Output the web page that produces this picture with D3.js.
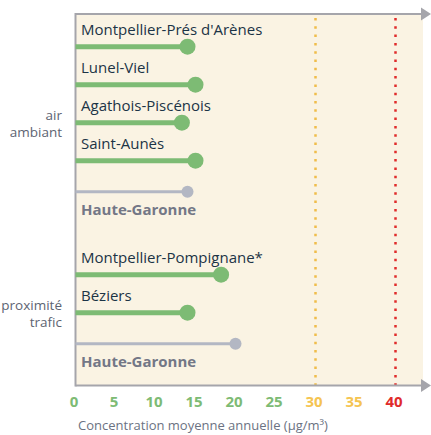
<!DOCTYPE html>
<html>
<head>
<meta charset="utf-8">
<script src="https://cdn.jsdelivr.net/npm/d3@7"></script>
<style>
  html, body { margin: 0; padding: 0; background: #fff; }
  svg { display: block; font-family: "Open Sans", sans-serif; }
</style>
</head>
<body>
<svg id="chart" width="431" height="435"></svg>
<script>
// Station rows, top to bottom ("" is an empty spacer slot)
const stations = ["Montpellier-Prés d'Arènes", "Lunel-Viel", "Agathois-Piscénois", "Saint-Aunès",
                  "Haute-Garonne (air)", "", "Montpellier-Pompignane*", "Béziers", "Haute-Garonne (trafic)"];
const labels = ["Montpellier-Prés d'Arènes", "Lunel-Viel", "Agathois-Piscénois", "Saint-Aunès",
                "Haute-Garonne", "", "Montpellier-Pompignane*", "Béziers", "Haute-Garonne"];
const values = [14, 15, 13.3, 15, 14, null, 18.2, 14, 20];
const isReference = [false, false, false, false, true, false, false, false, true];

const groups = [
  { lines: ["air", "ambiant"], first: 0, last: 4 },
  { lines: ["proximité", "trafic"], first: 6, last: 8 }
];

const tickValues = [0, 5, 10, 15, 20, 25, 30, 35, 40];
const thresholds = [{ v: 30, color: "#f0bd4a" }, { v: 40, color: "#e02b2b" }];

const GREEN = "#7dbb74", GREY = "#b3b7c3", AXIS = "#a5a5ab";
const tickColor = v => v >= 40 ? "#e02b2b" : v >= 30 ? "#f5c451" : GREEN;

const svg = d3.select("#chart");
const plotLeft = 75.5, plotRight = 423, plotTop = 14, plotBottom = 385.5;

const x = d3.scaleLinear().domain([0, 40]).range([plotLeft, plotLeft + 320]);
const y = d3.scaleBand().domain(stations).range([27.7, 27.7 + 38 * stations.length]).padding(0);
const yc = s => y(s) + y.bandwidth() / 2;

// plot background
svg.append("rect").attr("x", plotLeft).attr("y", plotTop)
  .attr("width", plotRight - plotLeft).attr("height", plotBottom - plotTop)
  .attr("fill", "#faf3e3");

// threshold lines
thresholds.forEach(t => {
  svg.append("line").attr("x1", x(t.v)).attr("x2", x(t.v)).attr("y1", plotTop + 4).attr("y2", plotBottom)
    .attr("stroke", t.color).attr("stroke-width", 2.5).attr("stroke-dasharray", "2.5,5.8");
});

// axes frame with arrows
[plotTop, plotBottom].forEach(yy => {
  svg.append("line").attr("x1", plotLeft).attr("x2", 423).attr("y1", yy).attr("y2", yy)
    .attr("stroke", AXIS).attr("stroke-width", 2);
  svg.append("path").attr("d", `M421,${yy - 6.5}L431,${yy}L421,${yy + 6.5}Z`).attr("fill", AXIS);
});
svg.append("line").attr("x1", plotLeft).attr("x2", plotLeft).attr("y1", plotTop - 1).attr("y2", plotBottom + 1)
  .attr("stroke", AXIS).attr("stroke-width", 2);

// lollipops
const rows = stations.map((s, i) => ({ s, label: labels[i], v: values[i], ref: isReference[i] }))
  .filter(d => d.v !== null);

rows.forEach(d => {
  const cy = d.ref ? yc(d.s) - 7 : yc(d.s);
  const col = d.ref ? GREY : GREEN;
  svg.append("line").attr("x1", plotLeft).attr("x2", x(d.v)).attr("y1", cy).attr("y2", cy)
    .attr("stroke", col).attr("stroke-width", d.ref ? 3 : 5);
  svg.append("circle").attr("cx", x(d.v)).attr("cy", cy).attr("r", d.ref ? 6 : 8).attr("fill", col);
  svg.append("text").attr("x", 81).attr("y", d.ref ? cy + 23 : cy - 11.5)
    .attr("font-size", 15).attr("font-weight", d.ref ? 700 : 400)
    .attr("fill", d.ref ? "#737786" : "#1c3446").text(d.label);
});

// group labels
groups.forEach(g => {
  const cy = (yc(stations[g.first]) + yc(stations[g.last])) / 2;
  const t = svg.append("text").attr("text-anchor", "end").attr("font-size", 13.5).attr("fill", "#5d6472");
  g.lines.forEach((ln, i) => {
    t.append("tspan").attr("x", 62).attr("y", cy - 3 + i * 17).text(ln);
  });
});

// x axis tick labels
const xAxis = d3.axisBottom(x).tickValues(tickValues).tickSize(0).tickPadding(0).tickFormat(d3.format("d"));
const gx = svg.append("g").attr("transform", `translate(0,${plotBottom})`).call(xAxis);
gx.select(".domain").remove();
gx.selectAll("text").attr("dy", null).attr("y", 21.5).attr("dx", -2)
  .attr("font-family", "Open Sans, sans-serif").attr("font-size", 15).attr("font-weight", 700)
  .attr("fill", d => tickColor(d));

// axis title
svg.append("text").attr("x", 203).attr("y", 430).attr("text-anchor", "middle")
  .attr("font-size", 13).attr("fill", "#6b7282").text("Concentration moyenne annuelle (µg/m³)");
</script>
</body>
</html>
